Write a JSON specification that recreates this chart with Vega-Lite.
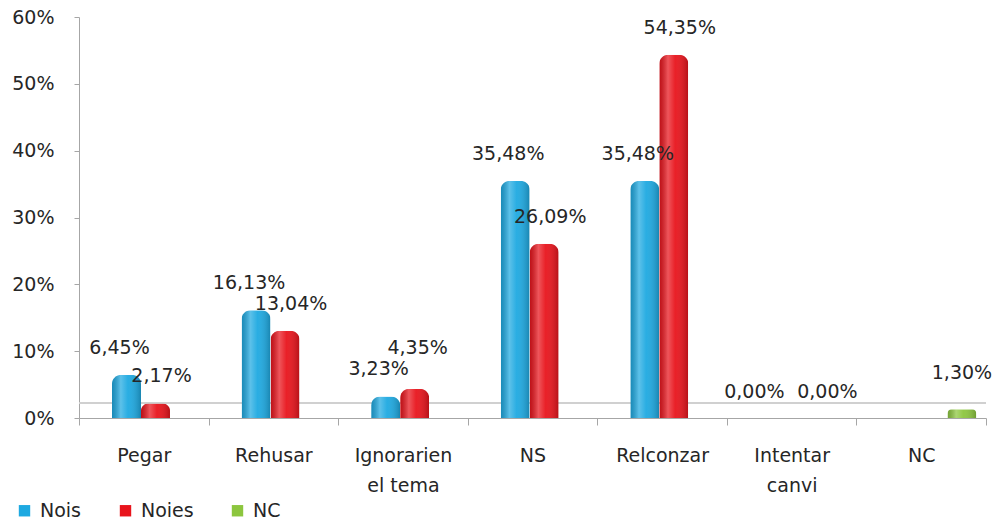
{
  "$schema": "https://vega.github.io/schema/vega-lite/v6.json",
  "autosize": {"type": "none"},
  "width": 907,
  "height": 401,
  "padding": {"left": 79, "top": 17, "right": 20, "bottom": 107},
  "background": "white",
  "config": {
    "locale": {"number": {"decimal": ",", "thousands": ".", "grouping": [3], "currency": ["", " €"]}},
    "view": {"stroke": null},
    "font": "DejaVu Sans"
  },
  "data": {
    "values": [
      {"categoria": "Pegar", "serie": "Nois", "valor": 0.0645},
      {"categoria": "Pegar", "serie": "Noies", "valor": 0.0217},
      {"categoria": "Rehusar", "serie": "Nois", "valor": 0.1613},
      {"categoria": "Rehusar", "serie": "Noies", "valor": 0.1304},
      {"categoria": "Ignorarien el tema", "serie": "Nois", "valor": 0.0323},
      {"categoria": "Ignorarien el tema", "serie": "Noies", "valor": 0.0435},
      {"categoria": "NS", "serie": "Nois", "valor": 0.3548},
      {"categoria": "NS", "serie": "Noies", "valor": 0.2609},
      {"categoria": "Relconzar", "serie": "Nois", "valor": 0.3548},
      {"categoria": "Relconzar", "serie": "Noies", "valor": 0.5435},
      {"categoria": "Intentar canvi", "serie": "Nois", "valor": 0.0},
      {"categoria": "Intentar canvi", "serie": "Noies", "valor": 0.0},
      {"categoria": "NC", "serie": "NC", "valor": 0.013}
    ]
  },
  "encoding": {
    "x": {
      "field": "categoria", "type": "nominal",
      "sort": ["Pegar", "Rehusar", "Ignorarien el tema", "NS", "Relconzar", "Intentar canvi", "NC"],
      "scale": {"paddingInner": 0, "paddingOuter": 0},
      "axis": {
        "title": null, "labelAngle": 0, "tickBand": "extent",
        "domainColor": "#a6a6a6", "tickColor": "#a6a6a6", "tickSize": 7,
        "labelPadding": 21, "labelFontSize": 19, "labelColor": "#262626",
        "labelLineHeight": 30,
        "labelExpr": "datum.value == 'Ignorarien el tema' ? ['Ignorarien', 'el tema'] : datum.value == 'Intentar canvi' ? ['Intentar', 'canvi'] : datum.value"
      }
    },
    "xOffset": {"field": "serie", "type": "nominal", "scale": {"domain": ["Nois", "Noies", "NC"], "paddingInner": 0, "paddingOuter": 0.734, "align": 0.775}},
    "y": {
      "field": "valor", "type": "quantitative",
      "scale": {"domain": [0, 0.6]},
      "axis": {
        "title": null, "format": ".0%", "values": [0, 0.1, 0.2, 0.3, 0.4, 0.5, 0.6],
        "grid": false, "domainColor": "#a6a6a6", "tickColor": "#a6a6a6", "tickSize": 5,
        "labelPadding": 20, "labelFontSize": 19, "labelColor": "#262626"
      }
    }
  },
  "layer": [
    {
      "mark": {"type": "rule", "color": "#d0d0d0", "strokeWidth": 1.5},
      "encoding": {"x": null, "xOffset": null, "y": {"datum": 0.022, "type": "quantitative"}}
    },
    {
      "mark": {"type": "bar", "cornerRadiusTopLeft": 9, "cornerRadiusTopRight": 9},
      "encoding": {
        "color": {
          "field": "serie", "type": "nominal",
          "scale": {"domain": ["Nois", "Noies", "NC"], "range": ["#1ea9e1", "#e8141c", "#8cc63e"]},
          "legend": {
            "title": null, "orient": "none", "direction": "horizontal",
            "legendX": -64, "legendY": 484, "symbolType": "square", "symbolSize": 130,
            "symbolStrokeWidth": 0, "labelFontSize": 19, "labelColor": "#262626",
            "columnPadding": 34, "padding": 0, "labelOffset": 6
          }
        }
      }
    },
    {
      "mark": {
        "type": "bar", "cornerRadiusTopLeft": 9, "cornerRadiusTopRight": 9,
        "color": {
          "gradient": "linear", "x1": 0, "x2": 1, "y1": 0, "y2": 0,
          "stops": [
            {"offset": 0, "color": "rgba(0,0,0,0.18)"},
            {"offset": 0.3, "color": "rgba(255,255,255,0.28)"},
            {"offset": 0.55, "color": "rgba(255,255,255,0.05)"},
            {"offset": 1, "color": "rgba(0,0,0,0.22)"}
          ]
        }
      }
    },
    {
      "encoding": {"text": {"field": "valor", "type": "quantitative", "format": ".2%"}},
      "layer": [
        {
          "transform": [{"filter": "datum.serie == 'Nois' && datum.categoria != 'Intentar canvi'"}],
          "mark": {"type": "text", "dx": -7, "dy": -27, "fontSize": 19, "color": "#262626"}
        },
        {
          "transform": [{"filter": "datum.serie == 'Noies' && datum.categoria != 'Intentar canvi' && datum.categoria != 'Ignorarien el tema'"}],
          "mark": {"type": "text", "dx": 6, "dy": -27, "fontSize": 19, "color": "#262626"}
        },
        {
          "transform": [{"filter": "datum.serie == 'Noies' && datum.categoria == 'Ignorarien el tema'"}],
          "mark": {"type": "text", "dx": 3, "dy": -41, "fontSize": 19, "color": "#262626"}
        },
        {
          "transform": [{"filter": "datum.serie == 'Nois' && datum.categoria == 'Intentar canvi'"}],
          "mark": {"type": "text", "dx": -20, "dy": -26, "fontSize": 19, "color": "#262626"}
        },
        {
          "transform": [{"filter": "datum.serie == 'Noies' && datum.categoria == 'Intentar canvi'"}],
          "mark": {"type": "text", "dx": 24, "dy": -26, "fontSize": 19, "color": "#262626"}
        },
        {
          "transform": [{"filter": "datum.serie == 'NC'"}],
          "mark": {"type": "text", "dy": -36, "fontSize": 19, "color": "#262626"}
        }
      ]
    }
  ]
}
